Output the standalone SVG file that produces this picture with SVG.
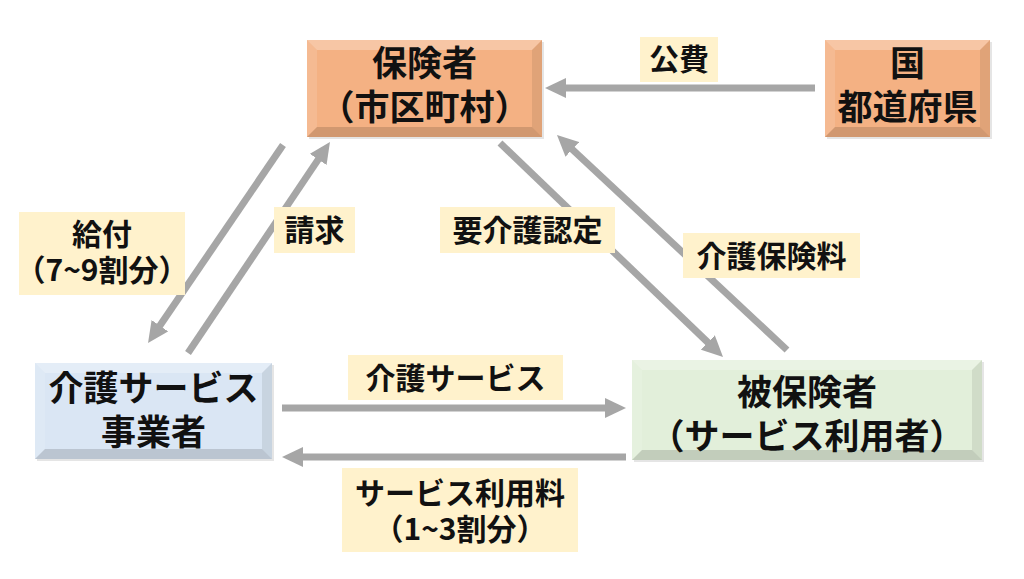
<svg xmlns="http://www.w3.org/2000/svg" width="1024" height="579" viewBox="0 0 1024 579">
<style>
  text { font-family: "Noto Sans CJK JP", "Noto Sans", sans-serif; font-weight: bold; fill: #111; text-anchor: middle; }
  .nt { font-size: 35px; }
  .lt { font-size: 30px; }
  .lbl { fill: #fff2cc; }
  .conn { stroke: #a6a6a6; stroke-width: 7; fill: none; marker-end: url(#ah); }
  .hi { fill: #ffffff; opacity: 0.28; }
  .hi2 { fill: #ffffff; opacity: 0.12; }
  .sh { fill: #000000; opacity: 0.08; }
  .sh2 { fill: #000000; opacity: 0.14; }
  .orange { fill: #f4b183; }
  .blue { fill: #dae6f4; }
  .green { fill: #e2efda; }
  .drop { fill: #000; opacity: 0.10; }
</style>
<defs>
  <marker id="ah" markerUnits="userSpaceOnUse" markerWidth="22" markerHeight="20" refX="1" refY="10" orient="auto">
    <path d="M0,0 L21,10 L0,20 z" fill="#a6a6a6"/>
  </marker>
</defs>
<rect width="1024" height="579" fill="#ffffff"/>

<g id="connectors">
  <line class="conn" x1="815" y1="88" x2="565" y2="88"/>
  <line class="conn" x1="282" y1="408" x2="606" y2="408"/>
  <line class="conn" x1="626" y1="457" x2="302" y2="457"/>
  <line class="conn" x1="283" y1="145" x2="159.3" y2="326.5"/>
  <line class="conn" x1="188" y1="353" x2="318.8" y2="158.6"/>
  <line class="conn" x1="500" y1="143" x2="708.6" y2="343.1"/>
  <line class="conn" x1="787" y1="350" x2="571.6" y2="148.7"/>
</g>

<g id="node-hokensha">
  <rect class="drop" x="309" y="42" width="235" height="97"/>
  <rect class="orange" x="307" y="40" width="235" height="97"/>
  <polygon class="hi" points="307,40 542,40 532,50 317,50"/>
  <polygon class="hi2" points="307,40 317,50 317,127 307,137"/>
  <polygon class="sh" points="542,40 542,137 532,127 532,50"/>
  <polygon class="sh2" points="307,137 542,137 532,127 317,127"/>
  <text class="nt" x="424.5" y="76">保険者<tspan x="424.5" dy="44">（市区町村）</tspan></text>
</g>

<g id="node-kuni">
  <rect class="drop" x="827" y="42" width="165" height="97"/>
  <rect class="orange" x="825" y="40" width="165" height="97"/>
  <polygon class="hi" points="825,40 990,40 980,50 835,50"/>
  <polygon class="hi2" points="825,40 835,50 835,127 825,137"/>
  <polygon class="sh" points="990,40 990,137 980,127 980,50"/>
  <polygon class="sh2" points="825,137 990,137 980,127 835,127"/>
  <text class="nt" x="907.5" y="76">国<tspan x="907.5" dy="44">都道府県</tspan></text>
</g>

<g id="node-jigyosha">
  <rect class="drop" x="37" y="365" width="237" height="96"/>
  <rect class="blue" x="35" y="363" width="237" height="96"/>
  <polygon class="hi" points="35,363 272,363 262,373 45,373"/>
  <polygon class="hi2" points="35,363 45,373 45,449 35,459"/>
  <polygon class="sh" points="272,363 272,459 262,449 262,373"/>
  <polygon class="sh2" points="35,459 272,459 262,449 45,449"/>
  <text class="nt" x="153.5" y="401">介護サービス<tspan x="153.5" dy="44">事業者</tspan></text>
</g>

<g id="node-hihokensha">
  <rect class="drop" x="634" y="362" width="350" height="100"/>
  <rect class="green" x="632" y="360" width="350" height="100"/>
  <polygon class="hi" points="632,360 982,360 972,370 642,370"/>
  <polygon class="hi2" points="632,360 642,370 642,450 632,460"/>
  <polygon class="sh" points="982,360 982,460 972,450 972,370"/>
  <polygon class="sh2" points="632,460 982,460 972,450 642,450"/>
  <text class="nt" x="807" y="405">被保険者<tspan x="807" dy="44">（サービス利用者）</tspan></text>
</g>

<g id="label-kohi">
  <rect class="lbl" x="640" y="37" width="78" height="45"/>
  <text class="lt" x="679" y="70">公費</text>
</g>
<g id="label-kyufu">
  <rect class="lbl" x="19" y="212" width="166" height="83"/>
  <text class="lt" x="102" y="245">給付<tspan x="102" dy="36">（7~9割分）</tspan></text>
</g>
<g id="label-seikyu">
  <rect class="lbl" x="274" y="207" width="81" height="46"/>
  <text class="lt" x="314.5" y="241">請求</text>
</g>
<g id="label-yokaigo">
  <rect class="lbl" x="440" y="207" width="175" height="46"/>
  <text class="lt" x="527.5" y="241">要介護認定</text>
</g>
<g id="label-hokenryo">
  <rect class="lbl" x="683" y="233" width="177" height="45"/>
  <text class="lt" x="771.5" y="267">介護保険料</text>
</g>
<g id="label-service">
  <rect class="lbl" x="348" y="355" width="215" height="45"/>
  <text class="lt" x="455.5" y="389">介護サービス</text>
</g>
<g id="label-riyoryo">
  <rect class="lbl" x="342" y="468" width="236" height="84"/>
  <text class="lt" x="460" y="504">サービス利用料<tspan x="460" dy="36">（1~3割分）</tspan></text>
</g>
</svg>
